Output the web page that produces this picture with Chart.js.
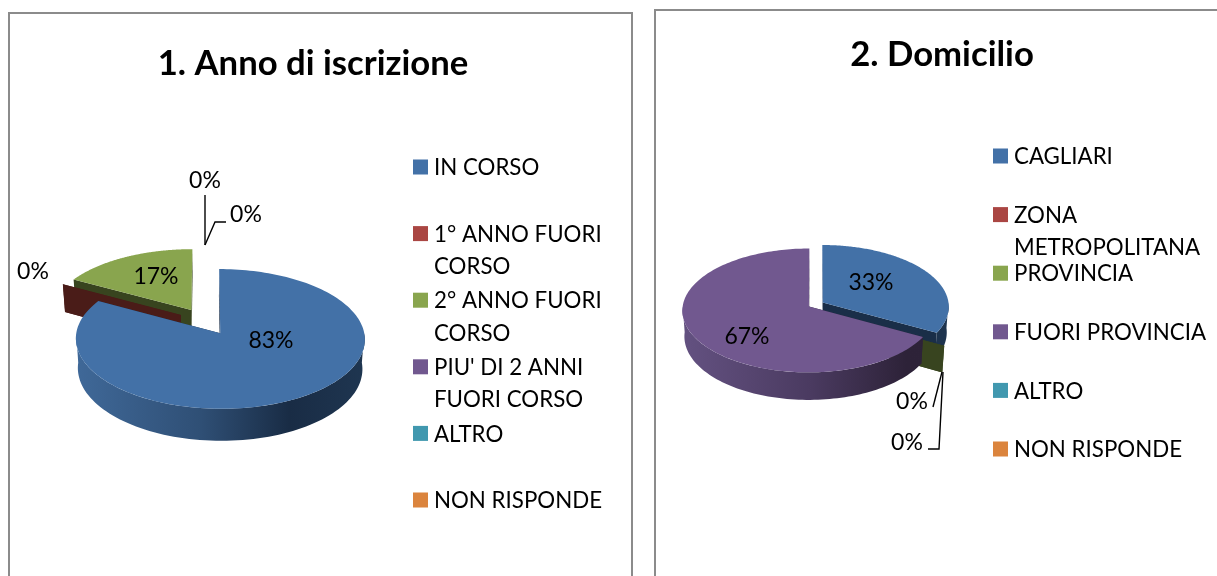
<!DOCTYPE html>
<html>
<head>
<meta charset="utf-8">
<title>Anno di iscrizione e Domicilio</title>
<script src="https://cdn.jsdelivr.net/npm/chart.js@4"></script>
<style>
html,body{margin:0;padding:0;background:#fff;overflow:hidden;width:1217px;height:576px}
.frame{position:absolute;box-sizing:border-box;border:2px solid #8b8b8b;background:#fff}
canvas{position:absolute}
</style>
</head>
<body>
<div class="frame" style="left:8px;top:12px;width:625px;height:640px"></div>
<div class="frame" style="left:654px;top:9px;width:640px;height:640px"></div>
<canvas id="c1" width="606" height="563" style="left:10px;top:13px"></canvas>
<canvas id="c2" width="550" height="566" style="left:667px;top:10px"></canvas>
<script>
const title1 = '1. Anno di iscrizione';
const categories1 = ['IN CORSO', '1° ANNO FUORI CORSO', '2° ANNO FUORI CORSO', "PIU' DI 2 ANNI FUORI CORSO", 'ALTRO', 'NON RISPONDE'];
const values1 = [83, 0, 17, 0, 0, 0];

const title2 = '2. Domicilio';
const categories2 = ['CAGLIARI', 'ZONA METROPOLITANA', 'PROVINCIA', 'FUORI PROVINCIA', 'ALTRO', 'NON RISPONDE'];
const values2 = [33, 0, 0, 67, 0, 0];

const sliceColors = ['#4371a7', '#aa4643', '#89a54e', '#71588f', '#4198af', '#db843d'];
const edgeColors  = ['#1a2e48', '#4a1c18', '#38441f', '#2e2339', '#1c4450', '#6b3f1c'];
const wallStops = [
  [[0, '#416b9c'], [0.45, '#2f4f75'], [0.74, '#192c45'], [1, '#1f3651']],
  null, null,
  [[0, '#62507f'], [0.45, '#4a3a60'], [0.8, '#2d2238'], [1, '#2e2339']]
];
const FONT = 'Lato, Carlito, sans-serif';

function build(id, titleText, labels, values, view) {
  const P = (u, v, low) => {
    const k = 1 / (1 - view.p * v);
    if (!low) return [view.cx + view.rx * u * k, view.cy + view.ry * v * k];
    return [view.cx + view.rx * u * k * 0.985, view.cy + view.ry * v * k + view.depth * k];
  };
  const plugin = {
    id: 'pie3d' + id,
    beforeDatasetDraw() { return false; },
    afterDatasetsDraw(chart) {
      const ctx = chart.ctx, arcs = chart.getDatasetMeta(0).data;
      ctx.save();
      ctx.translate(-view.left, -view.top);

      const geo = i => {
        const a0 = arcs[i].startAngle, a1 = arcs[i].endAngle, mid = (a0 + a1) / 2;
        const s = view.shift[i] || [Math.cos(mid) * view.explode, Math.sin(mid) * view.explode];
        return { a0, a1, du: s[0], dv: s[1] };
      };
      const poly = pts => {
        ctx.beginPath();
        pts.forEach((q, n) => n ? ctx.lineTo(q[0], q[1]) : ctx.moveTo(q[0], q[1]));
        ctx.closePath();
      };
      const radial = (g, a, fill) => {
        const u = g.du + Math.cos(a), v = g.dv + Math.sin(a);
        poly([P(g.du, g.dv), P(u, v), P(u, v, true), P(g.du, g.dv, true)]);
        ctx.fillStyle = fill;
        ctx.fill();
      };
      const walls = i => {
        const g = geo(i);
        radial(g, g.a0, edgeColors[i]);
        radial(g, g.a1, edgeColors[i]);
        const from = Math.max(g.a0, 0), to = Math.min(g.a1, Math.PI);
        if (to > from) {
          const up = [], low = [], N = 90;
          for (let n = 0; n <= N; n++) {
            const a = from + (to - from) * n / N;
            const u = g.du + Math.cos(a), v = g.dv + Math.sin(a);
            up.push(P(u, v));
            low.unshift(P(u, v, true));
          }
          poly(up.concat(low));
          const grad = ctx.createLinearGradient(view.cx - view.rx, 0, view.cx + view.rx * 1.15, 0);
          (wallStops[i] || [[0, edgeColors[i]], [1, edgeColors[i]]]).forEach(s => grad.addColorStop(s[0], s[1]));
          ctx.fillStyle = grad;
          ctx.fill();
        }
      };
      const top = i => {
        const g = geo(i), pts = [P(g.du, g.dv)], N = 180;
        for (let n = 0; n <= N; n++) {
          const a = g.a0 + (g.a1 - g.a0) * n / N;
          pts.push(P(g.du + Math.cos(a), g.dv + Math.sin(a)));
        }
        poly(pts);
        ctx.fillStyle = sliceColors[i];
        ctx.fill();
      };
      view.order.forEach(step => step[0] === 'w' ? walls(step[1]) : top(step[1]));

      // leader lines
      ctx.strokeStyle = '#000';
      ctx.lineWidth = 1.4;
      view.leaders.forEach(line => {
        ctx.beginPath();
        line.forEach((q, n) => n ? ctx.lineTo(q[0], q[1]) : ctx.moveTo(q[0], q[1]));
        ctx.stroke();
      });

      // percentage labels
      const total = values.reduce((a, b) => a + b, 0);
      ctx.fillStyle = '#000';
      ctx.font = '23px ' + FONT;
      ctx.textAlign = 'center';
      ctx.textBaseline = 'middle';
      view.pct.forEach(l => ctx.fillText(Math.round(values[l[0]] / total * 100) + '%', l[1], l[2] + 1));

      // legend
      ctx.font = '22.3px ' + FONT;
      ctx.textAlign = 'left';
      labels.forEach((name, i) => {
        const y = view.legendY + i * view.legendStep;
        ctx.fillStyle = sliceColors[i];
        ctx.fillRect(view.legendX, y - 7.5, 15, 15);
        ctx.fillStyle = '#000';
        const lines = [];
        let cur = '';
        name.split(' ').forEach(w => {
          const t = cur ? cur + ' ' + w : w;
          if (cur && ctx.measureText(t).width > view.legendWrap) { lines.push(cur); cur = w; } else cur = t;
        });
        lines.push(cur);
        lines.forEach((t, n) => ctx.fillText(t, view.legendX + 21, y + 1 + n * 32.5));
      });
      ctx.restore();
    }
  };
  return new Chart(document.getElementById(id), {
    type: 'pie',
    data: { labels, datasets: [{ data: values, backgroundColor: sliceColors, borderWidth: 0 }] },
    options: {
      responsive: false,
      animation: false,
      devicePixelRatio: 1,
      events: [],
      plugins: {
        legend: { display: false },
        tooltip: { enabled: false },
        title: {
          display: true,
          text: titleText,
          color: '#000',
          font: { family: FONT, size: 34.7, weight: 'bold' },
          padding: { top: view.titleTop, bottom: 0 }
        }
      }
    },
    plugins: [plugin]
  });
}

build('c1', title1, categories1, values1, {
  left: 10, top: 13, titleTop: 30,
  cx: 205.6, cy: 321.5, rx: 142, ry: 67.5, p: 0.08, depth: 29, explode: 0.2,
  shift: {},
  order: [['w', 2], ['t', 2], ['w', 1], ['w', 0], ['t', 0]],
  pct: [[0, 271, 340], [2, 156, 276], [3, 205, 180], [4, 246, 214], [1, 33, 271]],
  leaders: [[[205, 195], [205, 245]], [[226, 222], [215, 222], [205, 245]]],
  legendX: 413, legendY: 167, legendStep: 66.6, legendWrap: 180
});

build('c2', title2, categories2, values2, {
  left: 667, top: 10, titleTop: 24,
  cx: 815.85, cy: 304.4, rx: 126, ry: 61.4, p: 0.065, depth: 25.7, explode: 0.0635,
  shift: { 2: [0.1, 0.163] },
  order: [['w', 0], ['t', 0], ['w', 2], ['w', 3], ['t', 3]],
  pct: [[0, 871, 282], [3, 747, 336], [1, 912, 401], [2, 907, 442]],
  leaders: [[[933, 407], [942, 372]], [[928, 449], [939, 449], [943, 372]]],
  legendX: 993, legendY: 156, legendStep: 58.6, legendWrap: 205
});
</script>
</body>
</html>
